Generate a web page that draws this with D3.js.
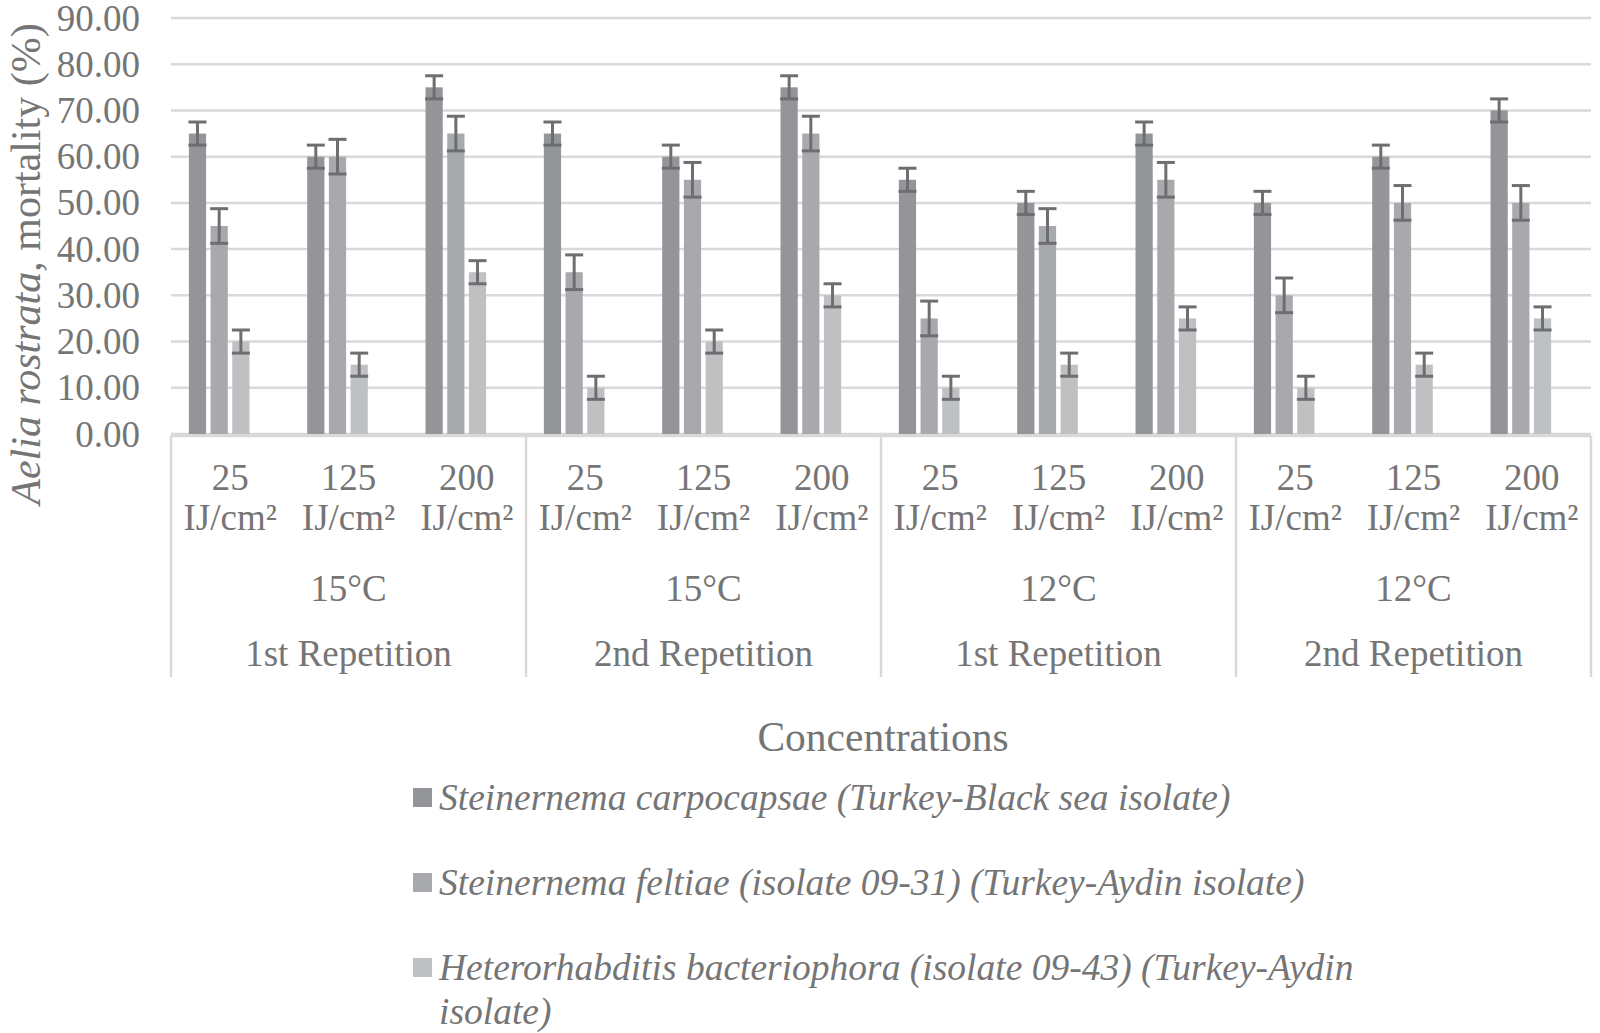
<!DOCTYPE html>
<html>
<head>
<meta charset="utf-8">
<script src="https://cdn.jsdelivr.net/npm/d3@7"></script>
<style>
  html, body { margin: 0; padding: 0; background: #fff; }
  svg { display: block; font-family: "Liberation Serif", "Times New Roman", serif; }
</style>
</head>
<body>
<svg id="chart" width="1600" height="1033"></svg>
<script>
// categories (three levels, innermost first)
const concentrations = ['25', '125', '200'];
const temperatures = ['15°C', '15°C', '12°C', '12°C'];
const repetitions = ['1st Repetition', '2nd Repetition', '1st Repetition', '2nd Repetition'];

// mortality (%) per concentration, in group order
const carpocapsae = [65, 60, 75, 65, 60, 75, 55, 50, 65, 50, 60, 70];
const feltiae = [45, 60, 65, 35, 55, 65, 25, 45, 55, 30, 50, 50];
const bacteriophora = [20, 15, 35, 10, 20, 30, 10, 15, 25, 10, 15, 25];

// error bar half-widths per series
const seriesErrors = [2.5, 3.75, 2.5];

const seriesNames = [
  ['Steinernema carpocapsae (Turkey-Black sea isolate)'],
  ['Steinernema feltiae (isolate 09-31) (Turkey-Aydin isolate)'],
  ['Heterorhabditis bacteriophora (isolate 09-43) (Turkey-Aydin', 'isolate)']
];
const seriesColors = ['#939598', '#a7a9ac', '#bfc0c2'];
const yTicks = [0, 10, 20, 30, 40, 50, 60, 70, 80, 90];

const textColor = '#757575';
const lineColor = '#d9d9d9';

const plot = { left: 171, right: 1591, top: 18, bottom: 434 };

const svg = d3.select('#chart');

// category keys
const cats = [];
repetitions.forEach((r, gi) => {
  concentrations.forEach((c, ci) => cats.push(gi * 3 + ci));
});

const x = d3.scaleBand()
  .domain(cats)
  .range([plot.left, plot.right])
  .paddingInner(0)
  .paddingOuter(0);

const xGroup = d3.scaleBand()
  .domain(d3.range(repetitions.length))
  .range([plot.left, plot.right]);

const xSeries = d3.scaleBand()
  .domain([0, 1, 2])
  .range([0, 60.6])
  .paddingInner(0.207);

const clusterOffset = x.bandwidth() / 2 - 41.3;

const y = d3.scaleLinear()
  .domain([0, 90])
  .range([plot.bottom, plot.top]);

// gridlines
svg.append('g')
  .selectAll('line')
  .data(yTicks)
  .join('line')
  .attr('x1', plot.left)
  .attr('x2', plot.right)
  .attr('y1', d => y(d))
  .attr('y2', d => y(d))
  .attr('stroke', lineColor)
  .attr('stroke-width', 2.5);

// y tick labels
svg.append('g')
  .selectAll('text')
  .data(yTicks)
  .join('text')
  .attr('x', 140)
  .attr('y', d => y(d) + 12.5)
  .attr('text-anchor', 'end')
  .attr('font-size', 37)
  .attr('fill', textColor)
  .text(d => d.toFixed(2));

// bars
const seriesData = [carpocapsae, feltiae, bacteriophora];
seriesData.forEach((values, si) => {
  const g = svg.append('g');
  g.selectAll('rect')
    .data(values)
    .join('rect')
    .attr('x', (d, i) => x(i) + clusterOffset + xSeries(si))
    .attr('width', xSeries.bandwidth())
    .attr('y', d => y(d))
    .attr('height', d => y(0) - y(d))
    .attr('fill', seriesColors[si]);
});

// error bars
seriesData.forEach((values, si) => {
  const err = seriesErrors[si];
  const g = svg.append('g')
    .attr('stroke', '#6d6e71')
    .attr('stroke-width', 3);
  values.forEach((v, i) => {
    const cx = x(i) + clusterOffset + xSeries(si) + xSeries.bandwidth() / 2;
    g.append('line')
      .attr('x1', cx).attr('x2', cx)
      .attr('y1', y(v + err)).attr('y2', y(v - err));
    [v + err, v - err].forEach(e => {
      g.append('line')
        .attr('x1', cx - 9).attr('x2', cx + 9)
        .attr('y1', y(e)).attr('y2', y(e));
    });
  });
});

// category axis: top line and group separators
const axisY = plot.bottom + 2;
svg.append('line')
  .attr('x1', plot.left).attr('x2', plot.right)
  .attr('y1', axisY).attr('y2', axisY)
  .attr('stroke', lineColor)
  .attr('stroke-width', 2.5);

const separators = d3.range(repetitions.length + 1).map(i =>
  i < repetitions.length ? xGroup(i) : plot.right);
svg.append('g')
  .selectAll('line')
  .data(separators)
  .join('line')
  .attr('x1', d => d).attr('x2', d => d)
  .attr('y1', axisY).attr('y2', 677)
  .attr('stroke', lineColor)
  .attr('stroke-width', 2.5);

// concentration labels
const catLabels = svg.append('g')
  .attr('font-size', 37)
  .attr('fill', textColor)
  .attr('text-anchor', 'middle');
cats.forEach(i => {
  const t = catLabels.append('text')
    .attr('x', x(i) + x.bandwidth() / 2)
    .attr('y', 490);
  t.append('tspan').text(concentrations[i % 3]);
  t.append('tspan')
    .attr('x', x(i) + x.bandwidth() / 2)
    .attr('y', 530)
    .text('IJ/cm²');
});

// temperature and repetition labels
svg.append('g')
  .selectAll('text')
  .data(temperatures)
  .join('text')
  .attr('x', (d, i) => xGroup(i) + xGroup.bandwidth() / 2)
  .attr('y', 601)
  .attr('text-anchor', 'middle')
  .attr('font-size', 37)
  .attr('fill', textColor)
  .text(d => d);

svg.append('g')
  .selectAll('text')
  .data(repetitions)
  .join('text')
  .attr('x', (d, i) => xGroup(i) + xGroup.bandwidth() / 2)
  .attr('y', 666)
  .attr('text-anchor', 'middle')
  .attr('font-size', 37)
  .attr('fill', textColor)
  .text(d => d);

// axis titles
svg.append('text')
  .attr('x', 883)
  .attr('y', 751)
  .attr('text-anchor', 'middle')
  .attr('font-size', 41.5)
  .attr('fill', textColor)
  .text('Concentrations');

const yTitle = svg.append('text')
  .attr('transform', 'translate(40,264) rotate(-90)')
  .attr('text-anchor', 'middle')
  .attr('font-size', 42)
  .attr('fill', textColor);
yTitle.append('tspan').attr('font-style', 'italic').text('Aelia rostrata');
yTitle.append('tspan').text(', mortality (%)');

// legend
const legendRows = [0, 85, 170];
const legend = svg.append('g').attr('transform', 'translate(413,788)');
seriesNames.forEach((lines, si) => {
  const row = legend.append('g').attr('transform', `translate(0,${legendRows[si]})`);
  row.append('rect')
    .attr('width', 19).attr('height', 19)
    .attr('fill', seriesColors[si]);
  const t = row.append('text')
    .attr('x', 26)
    .attr('y', 22)
    .attr('font-size', 37.5)
    .attr('font-style', 'italic')
    .attr('fill', textColor);
  lines.forEach((line, li) => {
    t.append('tspan')
      .attr('x', 26)
      .attr('dy', li === 0 ? 0 : 44)
      .text(line);
  });
});
</script>
</body>
</html>
